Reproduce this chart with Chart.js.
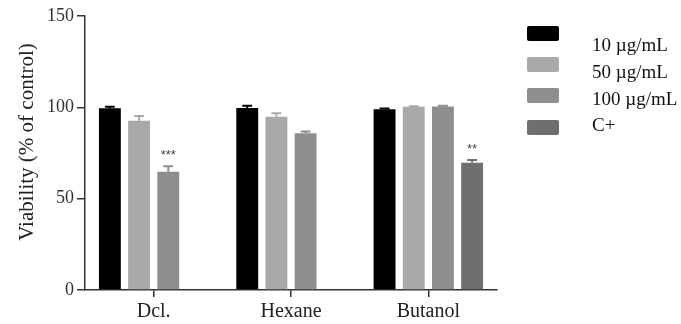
<!DOCTYPE html>
<html>
<head>
<meta charset="utf-8">
<script src="https://cdn.jsdelivr.net/npm/chart.js@4.4.0/dist/chart.umd.min.js"></script>
<style>
  html, body { margin: 0; padding: 0; background: #fff; }
  #wrap { position: relative; width: 681px; height: 324px; }
  #c { position: absolute; left: 0; top: 0; }
  .lg-box { position: absolute; left: 527px; width: 32px; height: 15px; border-radius: 2px; }
  .lg-txt { position: absolute; left: 592px; font-family: "Liberation Serif", "Times New Roman", serif; font-size: 19px; color: #111; line-height: 20px; white-space: nowrap; }
</style>
</head>
<body>
<div id="wrap">
  <canvas id="c" width="681" height="324"></canvas>
  <div id="legend"></div>
</div>
<script>
// ---- data ----
const categories = ['Dcl.', 'Hexane', 'Butanol'];
const seriesNames = ['10 \u00b5g/mL', '50 \u00b5g/mL', '100 \u00b5g/mL', 'C+'];
const v10  = [99.5, 99.6, 98.9];
const v50  = [92.7, 94.9, 100.3];
const v100 = [64.8, 85.8, 100.5];
const vC   = [null, null, 69.7];
const e10  = [0.8, 1.2, 0.4];
const e50  = [2.5, 1.8, 0.3];
const e100 = [3.0, 1.0, 0.3];
const eC   = [null, null, 1.5];
const sig100 = ['***', '', ''];
const sigC   = ['', '', '**'];
const yTicks = [0, 50, 100, 150];
const yTitle = 'Viability (% of control)';

const colors = ['#000000', '#a9a9a9', '#8e8e8e', '#6f6f6f'];
const values = [v10, v50, v100, vC];
const errors = [e10, e50, e100, eC];
const sigs = [null, null, sig100, sigC];
const serif = '"Liberation Serif", "Times New Roman", serif';

// ---- html legend ----
const legendTop = [{box: 26, txt: 35}, {box: 57, txt: 62}, {box: 88, txt: 89}, {box: 120, txt: 115}];
const lg = document.getElementById('legend');
seriesNames.forEach((n, i) => {
  const b = document.createElement('div');
  b.className = 'lg-box';
  b.style.top = legendTop[i].box + 'px';
  b.style.background = colors[i];
  lg.appendChild(b);
  const t = document.createElement('div');
  t.className = 'lg-txt';
  t.style.top = legendTop[i].txt + 'px';
  t.textContent = n;
  lg.appendChild(t);
});

const errorBarPlugin = {
  id: 'errbars',
  afterDatasetsDraw(chart) {
    const ctx = chart.ctx;
    const ys = chart.scales.y;
    chart.data.datasets.forEach((ds, i) => {
      const meta = chart.getDatasetMeta(i);
      meta.data.forEach((bar, j) => {
        const v = ds.data[j];
        const e = errors[i][j];
        if (v == null || e == null) return;
        const yTop = ys.getPixelForValue(v + e);
        const x = bar.x;
        const cap = bar.width * 0.45;
        ctx.save();
        ctx.strokeStyle = colors[i];
        ctx.lineWidth = 2;
        ctx.beginPath();
        ctx.moveTo(x, bar.y);
        ctx.lineTo(x, yTop);
        ctx.moveTo(x - cap / 2, yTop);
        ctx.lineTo(x + cap / 2, yTop);
        ctx.stroke();
        const s = sigs[i] && sigs[i][j];
        if (s) {
          ctx.fillStyle = '#444';
          ctx.font = '13px "Liberation Sans", Arial, sans-serif';
          ctx.textAlign = 'center';
          ctx.textBaseline = 'middle';
          ctx.fillText(s, x, yTop - 11);
        }
        ctx.restore();
      });
    });
  }
};

const yTitlePlugin = {
  id: 'ytitle',
  afterDraw(chart) {
    const ctx = chart.ctx;
    ctx.save();
    ctx.translate(27, 142);
    ctx.rotate(-Math.PI / 2);
    ctx.fillStyle = '#222';
    ctx.font = '21px ' + serif;
    ctx.textAlign = 'center';
    ctx.textBaseline = 'middle';
    ctx.fillText(yTitle, 0, 0);
    ctx.restore();
  }
};

const axisColor = '#333333';
new Chart(document.getElementById('c'), {
  type: 'bar',
  data: {
    labels: categories,
    datasets: values.map((vals, i) => ({
      label: seriesNames[i],
      data: vals,
      backgroundColor: colors[i],
      borderColor: colors[i],
      borderWidth: 0,
      barPercentage: 0.75,
      categoryPercentage: 0.85
    }))
  },
  options: {
    responsive: false,
    animation: false,
    devicePixelRatio: 1,
    layout: { padding: { left: 0, right: 184, top: 16, bottom: 0 } },
    plugins: { legend: { display: false }, tooltip: { enabled: false } },
    scales: {
      x: {
        grid: { display: true, offset: false, drawOnChartArea: false, drawTicks: true, tickLength: 7, color: axisColor, lineWidth: 1.5 },
        border: { display: true, color: axisColor, width: 1.5 },
        ticks: { color: '#222', padding: 3, font: { family: serif, size: 20 } },
        afterFit(scale) { scale.height = 34; }
      },
      y: {
        min: 0, max: 150,
        afterBuildTicks(scale) { scale.ticks = yTicks.map(v => ({ value: v })); },
        grid: { display: true, drawOnChartArea: false, drawTicks: true, tickLength: 8, color: axisColor, lineWidth: 1.5 },
        border: { display: true, color: axisColor, width: 1.5 },
        ticks: { color: '#333', padding: 3, font: { family: serif, size: 18 } },
        title: { display: false },
        afterFit(scale) { scale.width = 85; }
      }
    }
  },
  plugins: [errorBarPlugin, yTitlePlugin]
});
</script>
</body>
</html>
